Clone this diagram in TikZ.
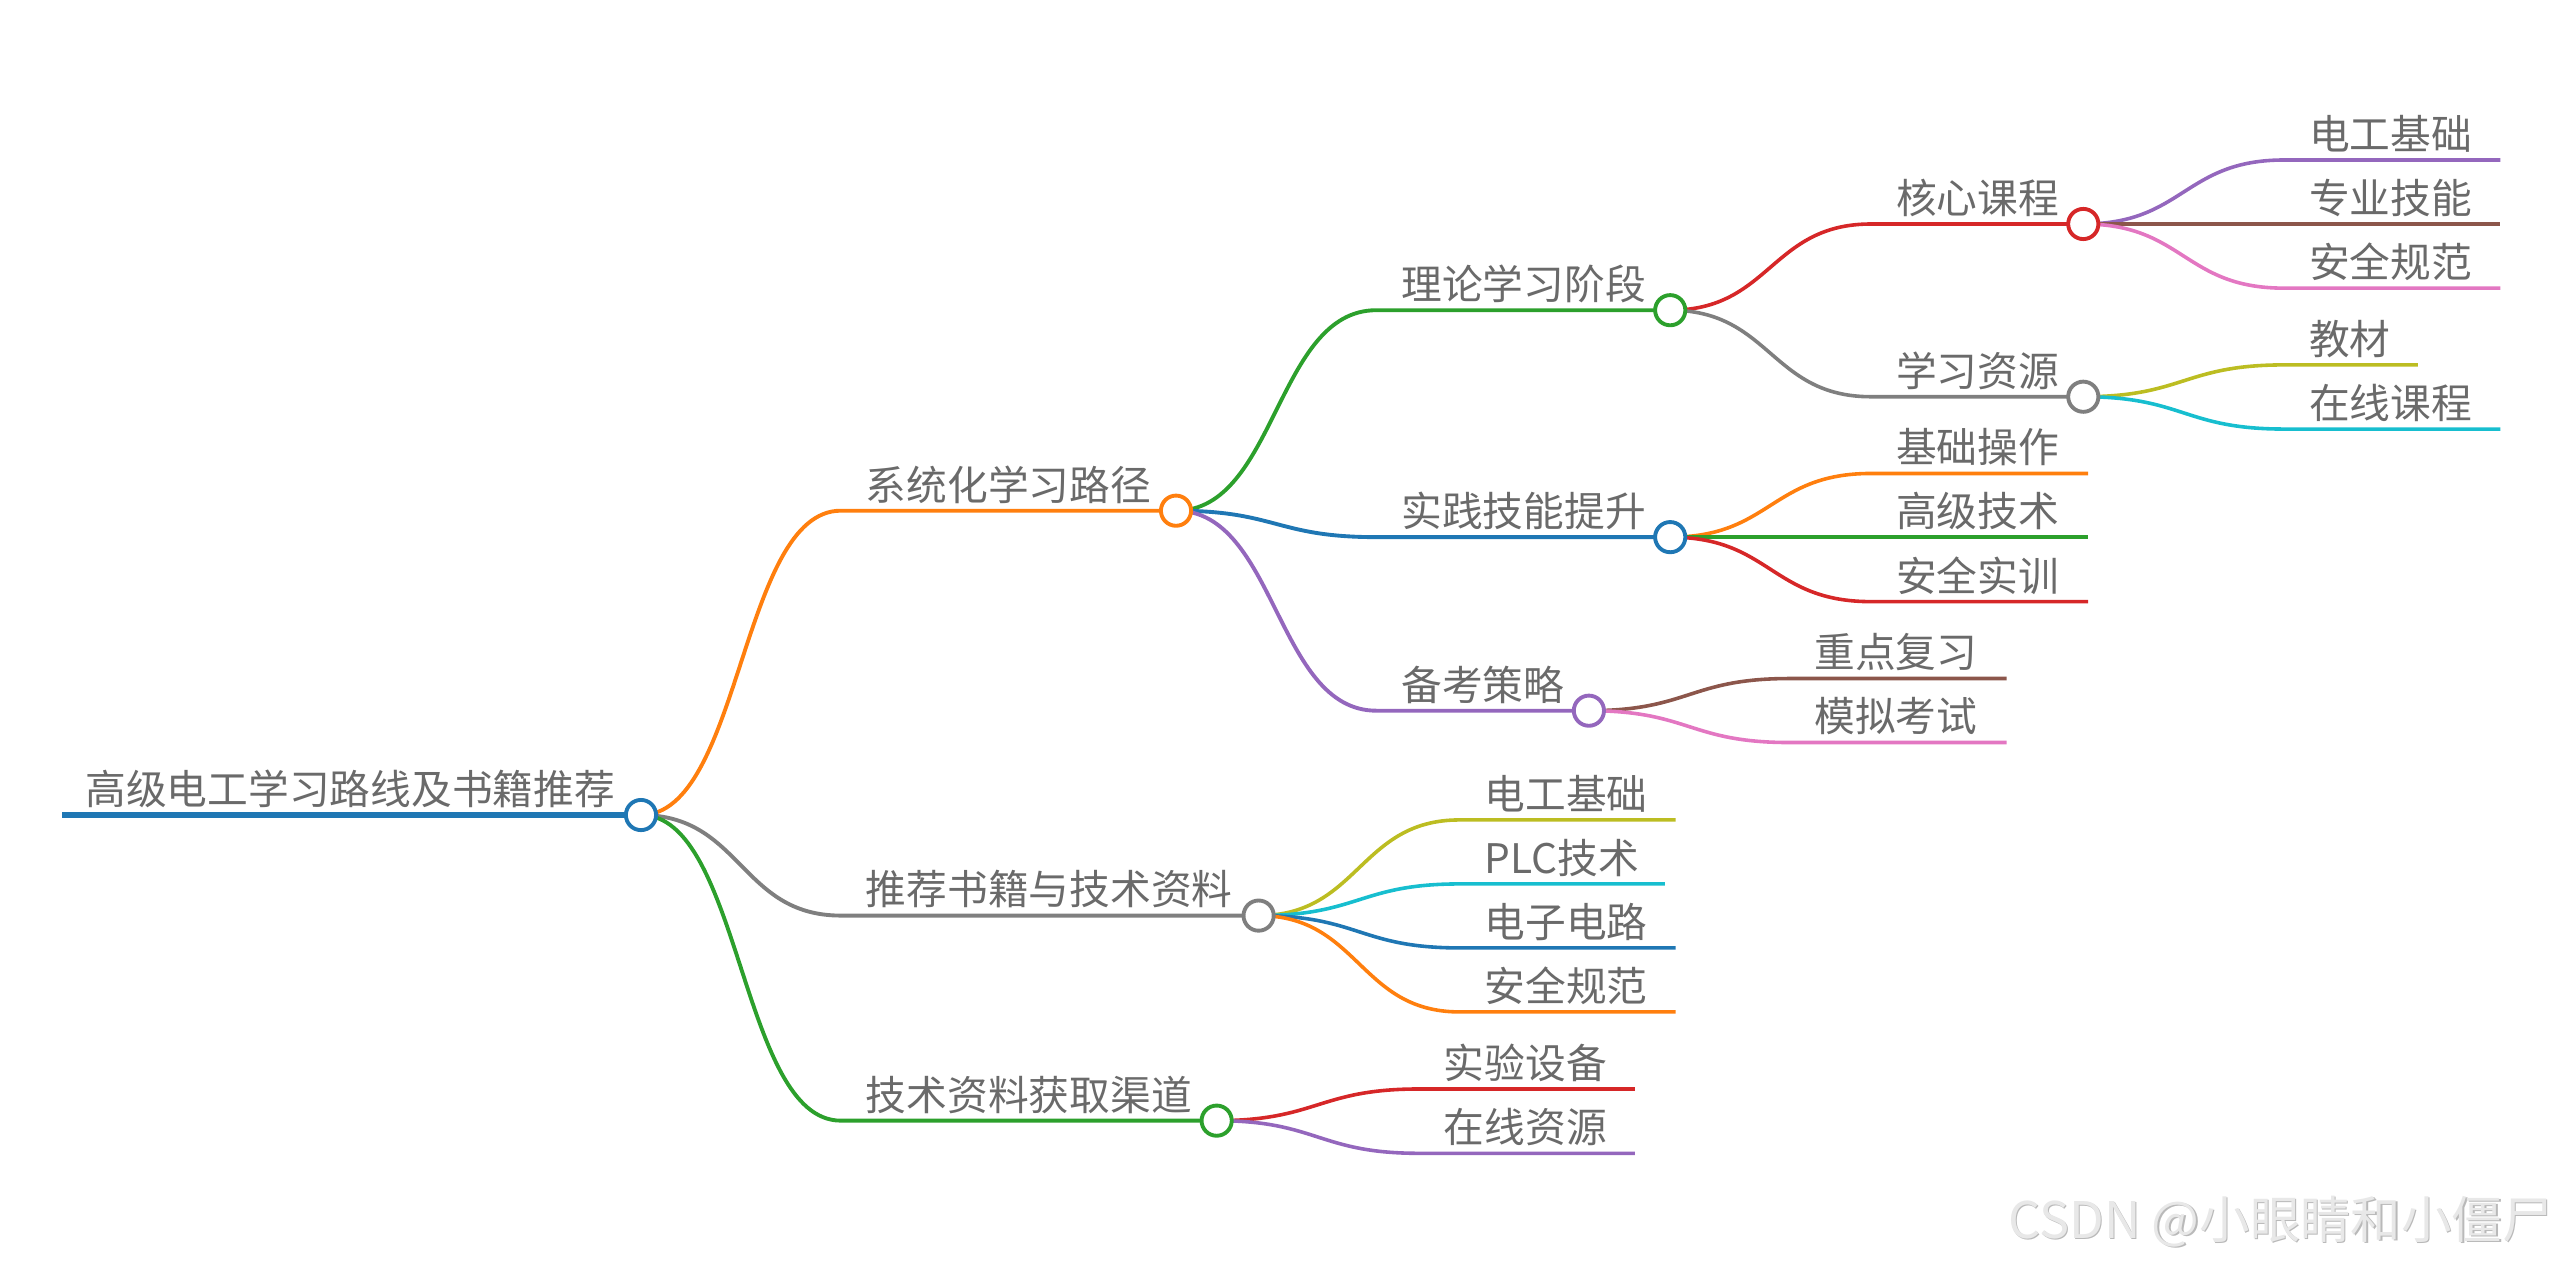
\documentclass[tikz,border=0pt]{standalone}
\usepackage{fontspec}
\setmainfont{Noto Sans CJK SC}
\usepackage{xcolor}
\usepackage{tikz}
\usetikzlibrary{positioning}
\definecolor{azul}{HTML}{1F77B4}
\definecolor{naranja}{HTML}{FF7F0E}
\definecolor{verde}{HTML}{2CA02C}
\definecolor{rojo}{HTML}{D62728}
\definecolor{morado}{HTML}{9467BD}
\definecolor{marron}{HTML}{8C564B}
\definecolor{rosa}{HTML}{E377C2}
\definecolor{gris}{HTML}{7F7F7F}
\definecolor{oliva}{HTML}{BCBD22}
\definecolor{cian}{HTML}{17BECF}
\definecolor{tinta}{HTML}{6A6A6A}
\tikzset{
  texto/.style={text=tinta, inner sep=0pt, anchor=base west, font=\fontsize{14.2pt}{17pt}\selectfont},
  tronco/.style={draw=#1, line width=1.8pt},
  rama/.style={draw=#1, line width=1.35pt},
  hoja/.style={draw=#1, line width=1.25pt},
  nudo/.style={circle, draw=#1, fill=white, line width=1.35pt, minimum size=0.37cm, inner sep=0pt},
  marca/.style={inner sep=0pt, anchor=base east, font=\fontsize{17.6pt}{20pt}\selectfont},
}

\begin{document}
\begin{tikzpicture}[x=0.02cm, y=-0.02cm]
  \useasboundingbox (0,0) rectangle (1568,773);

  % raiz y primer nivel
  \coordinate (R-a) at (38,499.2);
  \coordinate (R-o) at (392.6,499.2);
  \node[texto] (R) at (52,492.7) {高级电工学习路线及书籍推荐};
  \coordinate (Sis-a) at (515,312.8);
  \coordinate (Sis-o) at (720.3,312.8);
  \node[texto] (Sis) at (530,306.3) {系统化学习路径};
  \coordinate (Lib-a) at (515,560.8);
  \coordinate (Lib-o) at (770.9,560.8);
  \node[texto] (Lib) at (530,554.3) {推荐书籍与技术资料};
  \coordinate (Can-a) at (515,686.4);
  \coordinate (Can-o) at (745.2,686.4);
  \node[texto] (Can) at (530,679.9) {技术资料获取渠道};

  % segundo nivel
  \coordinate (Teo-a) at (843,190);
  \coordinate (Teo-o) at (1023,190);
  \node[texto] (Teo) at (858,183.5) {理论学习阶段};
  \coordinate (Pra-a) at (843,329);
  \coordinate (Pra-o) at (1023,329);
  \node[texto] (Pra) at (858,322.5) {实践技能提升};
  \coordinate (Exa-a) at (843,435.3);
  \coordinate (Exa-o) at (973.2,435.3);
  \node[texto] (Exa) at (858,428.8) {备考策略};

  % tercer nivel
  \coordinate (Nuc-a) at (1146,137.2);
  \coordinate (Nuc-o) at (1276,137.2);
  \node[texto] (Nuc) at (1161,130.7) {核心课程};
  \coordinate (Rec-a) at (1146,243);
  \coordinate (Rec-o) at (1276,243);
  \node[texto] (Rec) at (1161,236.5) {学习资源};
  \coordinate (Pra1-a) at (1146,290);
  \coordinate (Pra1-b) at (1279,290);
  \node[texto] (Pra1) at (1161,283.5) {基础操作};
  \coordinate (Pra2-a) at (1146,329);
  \coordinate (Pra2-b) at (1279,329);
  \node[texto] (Pra2) at (1161,322.5) {高级技术};
  \coordinate (Pra3-a) at (1146,368.5);
  \coordinate (Pra3-b) at (1279,368.5);
  \node[texto] (Pra3) at (1161,362) {安全实训};
  \coordinate (Exa1-a) at (1096,415.6);
  \coordinate (Exa1-b) at (1229,415.6);
  \node[texto] (Exa1) at (1111,409.1) {重点复习};
  \coordinate (Exa2-a) at (1096,454.8);
  \coordinate (Exa2-b) at (1229,454.8);
  \node[texto] (Exa2) at (1111,448.3) {模拟考试};
  \coordinate (Lib1-a) at (894,502.2);
  \coordinate (Lib1-b) at (1026.3,502.2);
  \node[texto] (Lib1) at (909,495.7) {电工基础};
  \coordinate (Lib2-a) at (894,541.4);
  \coordinate (Lib2-b) at (1019.7,541.4);
  \node[texto] (Lib2) at (909,534.9) {PLC技术};
  \coordinate (Lib3-a) at (894,580.6);
  \coordinate (Lib3-b) at (1026.3,580.6);
  \node[texto] (Lib3) at (909,574.1) {电子电路};
  \coordinate (Lib4-a) at (894,619.8);
  \coordinate (Lib4-b) at (1026.3,619.8);
  \node[texto] (Lib4) at (909,613.3) {安全规范};
  \coordinate (Can1-a) at (869,667);
  \coordinate (Can1-b) at (1001.4,667);
  \node[texto] (Can1) at (884,660.5) {实验设备};
  \coordinate (Can2-a) at (869,706.4);
  \coordinate (Can2-b) at (1001.4,706.4);
  \node[texto] (Can2) at (884,699.9) {在线资源};

  % cuarto nivel
  \coordinate (Nuc1-a) at (1399,98);
  \coordinate (Nuc1-b) at (1531.5,98);
  \node[texto] (Nuc1) at (1414,91.5) {电工基础};
  \coordinate (Nuc2-a) at (1399,137.2);
  \coordinate (Nuc2-b) at (1531.5,137.2);
  \node[texto] (Nuc2) at (1414,130.7) {专业技能};
  \coordinate (Nuc3-a) at (1399,176.5);
  \coordinate (Nuc3-b) at (1531.5,176.5);
  \node[texto] (Nuc3) at (1414,170) {安全规范};
  \coordinate (Rec1-a) at (1399,223.5);
  \coordinate (Rec1-b) at (1481,223.5);
  \node[texto] (Rec1) at (1414,217) {教材};
  \coordinate (Rec2-a) at (1399,262.8);
  \coordinate (Rec2-b) at (1531.5,262.8);
  \node[texto] (Rec2) at (1414,256.3) {在线课程};

  % lineas
  \draw[tronco=azul] (R-a) -- (R-o);
  \draw[rama=naranja] (R-o) .. controls +(61.5,0) and +(-61.5,0) .. (Sis-a) -- (Sis-o);
  \draw[rama=gris] (R-o) .. controls +(61.5,0) and +(-61.5,0) .. (Lib-a) -- (Lib-o);
  \draw[rama=verde] (R-o) .. controls +(61.5,0) and +(-61.5,0) .. (Can-a) -- (Can-o);
  \draw[rama=verde] (Sis-o) .. controls +(61.5,0) and +(-61.5,0) .. (Teo-a) -- (Teo-o);
  \draw[rama=azul] (Sis-o) .. controls +(61.5,0) and +(-61.5,0) .. (Pra-a) -- (Pra-o);
  \draw[rama=morado] (Sis-o) .. controls +(61.5,0) and +(-61.5,0) .. (Exa-a) -- (Exa-o);
  \draw[hoja=rojo] (Teo-o) .. controls +(61.5,0) and +(-61.5,0) .. (Nuc-a) -- (Nuc-o);
  \draw[hoja=gris] (Teo-o) .. controls +(61.5,0) and +(-61.5,0) .. (Rec-a) -- (Rec-o);
  \draw[hoja=naranja] (Pra-o) .. controls +(61.5,0) and +(-61.5,0) .. (Pra1-a) -- (Pra1-b);
  \draw[hoja=verde] (Pra-o) .. controls +(61.5,0) and +(-61.5,0) .. (Pra2-a) -- (Pra2-b);
  \draw[hoja=rojo] (Pra-o) .. controls +(61.5,0) and +(-61.5,0) .. (Pra3-a) -- (Pra3-b);
  \draw[hoja=marron] (Exa-o) .. controls +(61.5,0) and +(-61.5,0) .. (Exa1-a) -- (Exa1-b);
  \draw[hoja=rosa] (Exa-o) .. controls +(61.5,0) and +(-61.5,0) .. (Exa2-a) -- (Exa2-b);
  \draw[hoja=oliva] (Lib-o) .. controls +(61.5,0) and +(-61.5,0) .. (Lib1-a) -- (Lib1-b);
  \draw[hoja=cian] (Lib-o) .. controls +(61.5,0) and +(-61.5,0) .. (Lib2-a) -- (Lib2-b);
  \draw[hoja=azul] (Lib-o) .. controls +(61.5,0) and +(-61.5,0) .. (Lib3-a) -- (Lib3-b);
  \draw[hoja=naranja] (Lib-o) .. controls +(61.5,0) and +(-61.5,0) .. (Lib4-a) -- (Lib4-b);
  \draw[hoja=rojo] (Can-o) .. controls +(61.5,0) and +(-61.5,0) .. (Can1-a) -- (Can1-b);
  \draw[hoja=morado] (Can-o) .. controls +(61.5,0) and +(-61.5,0) .. (Can2-a) -- (Can2-b);
  \draw[hoja=morado] (Nuc-o) .. controls +(61.5,0) and +(-61.5,0) .. (Nuc1-a) -- (Nuc1-b);
  \draw[hoja=marron] (Nuc-o) .. controls +(61.5,0) and +(-61.5,0) .. (Nuc2-a) -- (Nuc2-b);
  \draw[hoja=rosa] (Nuc-o) .. controls +(61.5,0) and +(-61.5,0) .. (Nuc3-a) -- (Nuc3-b);
  \draw[hoja=oliva] (Rec-o) .. controls +(61.5,0) and +(-61.5,0) .. (Rec1-a) -- (Rec1-b);
  \draw[hoja=cian] (Rec-o) .. controls +(61.5,0) and +(-61.5,0) .. (Rec2-a) -- (Rec2-b);

  % nudos
  \node[nudo=azul] (R-c) at (R-o) {};
  \node[nudo=naranja] (Sis-c) at (Sis-o) {};
  \node[nudo=gris] (Lib-c) at (Lib-o) {};
  \node[nudo=verde] (Can-c) at (Can-o) {};
  \node[nudo=verde] (Teo-c) at (Teo-o) {};
  \node[nudo=azul] (Pra-c) at (Pra-o) {};
  \node[nudo=morado] (Exa-c) at (Exa-o) {};
  \node[nudo=rojo] (Nuc-c) at (Nuc-o) {};
  \node[nudo=gris] (Rec-c) at (Rec-o) {};

  \node[marca, text=gray!55] (sombra) at (1564.8,759.3) {CSDN @小眼睛和小僵尸};
  \node[marca, text=gray!18] (firma) at (1564,758.5) {CSDN @小眼睛和小僵尸};
\end{tikzpicture}
\end{document}
